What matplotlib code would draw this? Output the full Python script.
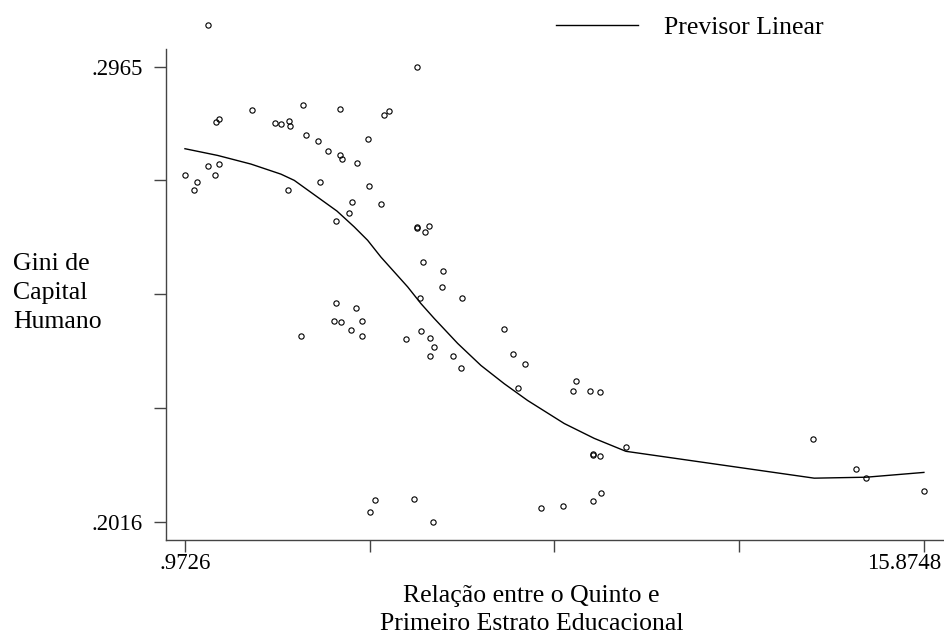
import numpy as np
import matplotlib
matplotlib.use("Agg")
import matplotlib.pyplot as plt
from matplotlib.transforms import ScaledTranslation

plt.rcParams['font.family'] = ['Liberation Serif', 'DejaVu Serif']

# pontos observados (relacao quinto/primeiro estrato, Gini de capital humano)
rel = [1.436, 5.645, 3.346, 4.104, 2.318, 4.979, 5.092, 1.592, 1.652, 2.781,
       2.914, 3.064, 3.084, 3.419, 3.655, 4.669, 3.862, 4.098, 4.132, 4.435,
       1.436, 1.658, 0.9726, 1.578, 1.221, 1.160, 3.050, 3.695, 4.683, 4.340,
       4.925, 4.280, 4.011, 5.661, 5.651, 5.812, 5.899, 5.778, 6.175, 6.149,
       5.705, 6.564, 4.018, 4.427, 3.983, 4.119, 4.548, 4.320, 4.542, 3.312,
       5.423, 5.738, 5.907, 6.000, 5.907, 6.383, 6.544, 7.411, 7.593, 7.829,
       7.688, 8.851, 8.791, 9.150, 9.351, 9.859, 9.200, 9.206, 9.335, 9.361,
       9.194, 8.589, 8.145, 5.590, 4.810, 4.709, 5.980, 13.643, 14.509, 14.711,
       15.8748]
gini = [0.3053, 0.2965, 0.2885, 0.2876, 0.2874, 0.2865, 0.2872, 0.2849, 0.2855, 0.2847,
        0.2845, 0.2851, 0.2842, 0.2822, 0.2811, 0.2814, 0.2789, 0.2780, 0.2773, 0.2764,
        0.2759, 0.2763, 0.2739, 0.2739, 0.2724, 0.2707, 0.2708, 0.2724, 0.2717, 0.2682,
        0.2679, 0.2660, 0.2644, 0.2629, 0.2630, 0.2620, 0.2633, 0.2557, 0.2539, 0.2505,
        0.2482, 0.2483, 0.2472, 0.2461, 0.2434, 0.2432, 0.2434, 0.2415, 0.2404, 0.2404,
        0.2397, 0.2413, 0.2399, 0.2380, 0.2362, 0.2361, 0.2337, 0.2419, 0.2366, 0.2346,
        0.2294, 0.2309, 0.2288, 0.2288, 0.2286, 0.2172, 0.2157, 0.2156, 0.2154, 0.2077,
        0.2059, 0.2050, 0.2044, 0.2064, 0.2062, 0.2036, 0.2016, 0.2188, 0.2127, 0.2108,
        0.2080]

# previsor linear
prev_x = [0.9726, 1.632, 2.303, 2.908, 3.177, 3.648, 4.038, 4.386, 4.657, 4.925,
          5.463, 5.732, 6.000, 6.472, 6.942, 7.411, 7.883, 8.621, 9.226, 9.865,
          13.663, 14.711, 15.8748]
prev_y = [0.2794, 0.2780, 0.2762, 0.2741, 0.2728, 0.2693, 0.2664, 0.2631, 0.2603, 0.2568,
          0.2506, 0.2471, 0.2440, 0.2388, 0.2342, 0.2304, 0.2269, 0.2221, 0.2190, 0.2163,
          0.2107, 0.2109, 0.2119]

xmin, xmax = 0.9726, 15.8748
ymin, ymax = 0.2016, 0.2965
xticks = np.linspace(xmin, xmax, 5)
yticks = np.linspace(ymin, ymax, 5)
xlabels = ['.9726', '', '', '', '15.8748']
ylabels = ['.2016', '', '', '', '.2965']

fig = plt.figure(figsize=(9.44, 6.36), dpi=100)
ax = fig.add_axes([0.1758, 0.1509, 0.8242, 0.7721])

ax.plot(rel, gini, 'o', ms=3.8, mfc='none', mec='black', mew=0.8, clip_on=False)
ax.plot(prev_x, prev_y, color='black', lw=1.0, label='Previsor Linear')

ax.set_xlim(0.5895, 16.28)
ax.set_ylim(0.1978, 0.3002)
ax.set_xticks(xticks)
ax.set_xticklabels(xlabels)
ax.set_yticks(yticks)
ax.set_yticklabels(ylabels)

for s in ['top', 'right']:
    ax.spines[s].set_visible(False)
for s in ['left', 'bottom']:
    ax.spines[s].set_color('#444444')
    ax.spines[s].set_linewidth(1.0)
ax.tick_params(direction='out', length=8.5, width=1.0, color='#444444',
               labelsize=16.5, labelcolor='black')
ax.tick_params(axis='x', pad=1)
ax.tick_params(axis='y', pad=8)

# ultimo rotulo do eixo x encostado na borda direita
last = ax.get_xticklabels()[-1]
last.set_ha('right')
last.set_transform(last.get_transform() + ScaledTranslation(0.17, 0, fig.dpi_scale_trans))

ax.set_ylabel('Gini de\nCapital\nHumano', rotation=0, fontsize=18.5,
              ha='left', va='center', multialignment='left', linespacing=1.4)
ax.yaxis.set_label_coords(-0.1967, 0.503)
ax.set_xlabel('Relação entre o Quinto e\nPrimeiro Estrato Educacional', fontsize=18.5,
              ha='center', va='center', linespacing=1.4)
ax.xaxis.set_label_coords(0.470, -0.1426)

fig.legend(loc='center left', bbox_to_anchor=(0.575, 0.957), frameon=False,
           fontsize=18.5, handlelength=3.2, handletextpad=1.0, borderpad=0)

fig.savefig('out.png', dpi=100)
